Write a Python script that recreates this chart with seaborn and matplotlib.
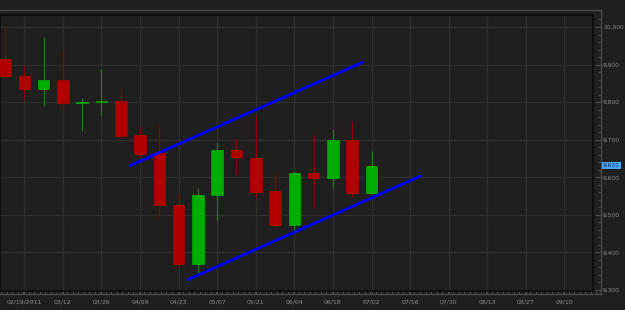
import matplotlib
matplotlib.use("Agg")
import matplotlib.pyplot as plt
import matplotlib.transforms as mtransforms
import numpy as np
import pandas as pd
import seaborn as sns

# ---- data (weekly candles) ----
opens  = [9914, 9870, 9834, 9860, 9798, 9800, 9803, 9712, 9664, 9526,
          9370, 9553, 9673, 9651, 9563, 9473, 9611, 9597, 9699, 9557]
closes = [9870, 9834, 9860, 9798, 9800, 9803, 9711, 9663, 9526, 9370,
          9553, 9673, 9653, 9562, 9473, 9611, 9597, 9699, 9557, 9631]
highs  = [10003, 9897, 9973, 9941, 9810, 9888, 9837, 9735, 9737, 9557,
          9572, 9690, 9701, 9766, 9609, 9617, 9715, 9729, 9751, 9669]
lows   = [9865, 9808, 9790, 9776, 9724, 9766, 9704, 9655, 9495, 9355,
          9343, 9486, 9605, 9546, 9467, 9455, 9517, 9571, 9548, 9555]
week_idx = list(range(len(opens)))

date_labels = ["02/19/2011", "03/12", "03/26", "04/09", "04/23", "05/07",
               "05/21", "06/04", "06/18", "07/02", "07/16", "07/30",
               "08/13", "08/27", "09/10"]
date_label_idx = [1, 3, 5, 7, 9, 11, 13, 15, 17, 19, 21, 23, 25, 27, 29]
y_ticks = [9300, 9400, 9500, 9600, 9700, 9800, 9900, 10000]
last_price = 9631

upper_x = [6.48, 18.54]
upper_y = [9631, 9906]
lower_x = [9.50, 21.53]
lower_y = [9328, 9603]

# ---- style ----
BG = "#1f1f1f"
GRID = "#2f2f2f"
TXT = "#8c8c8c"
sns.set_style("dark", rc={"axes.facecolor": BG, "figure.facecolor": BG})
plt.rcParams["font.family"] = ["DejaVu Sans"]

W, H = 625, 310
fig = plt.figure(figsize=(W / 100, H / 100), dpi=100)

# pixel mapping helpers (layout only)
PX_PER_WEEK = 19.29
X0_PX = 5.0
PX_PER_UNIT = 263 / 700.0
Y9300_PX = 290.0

def xlim_for(left_px, right_px):
    return ((left_px - X0_PX) / PX_PER_WEEK, (right_px - X0_PX) / PX_PER_WEEK)

def ylim_for(top_px, bottom_px):
    return (9300 + (Y9300_PX - bottom_px) / PX_PER_UNIT,
            9300 + (Y9300_PX - top_px) / PX_PER_UNIT)

# outer axis (gray axis lines with ticks and labels)
o_l, o_r, o_t, o_b = 0, 601, 10, 294
ax2 = fig.add_axes([o_l / W, 1 - o_b / H, (o_r - o_l) / W, (o_b - o_t) / H])
ax2.set_facecolor(BG)
ax2.set_xlim(*xlim_for(o_l, o_r))
ax2.set_ylim(*ylim_for(o_t, o_b))
ax2.spines["left"].set_visible(False)
for s in ["top", "right", "bottom"]:
    ax2.spines[s].set_visible(True)
    ax2.spines[s].set_color("#4a4a4a")
    ax2.spines[s].set_linewidth(1.0)
ax2.yaxis.tick_right()
ax2.set_yticks(y_ticks)
ax2.set_yticklabels([f"{v:,}" for v in y_ticks], color=TXT, fontsize=4.3)
ax2.set_yticks(np.arange(9300, 10040, 20), minor=True)
ax2.set_xticks(date_label_idx)
ax2.set_xticklabels(date_labels, color=TXT, fontsize=4.4)
ax2.set_xticks(np.arange(-0.2, 30.9, 2 / 7), minor=True)
ax2.tick_params(axis="y", which="major", direction="in", length=4, width=0.6,
                color="#5a5a5a", pad=1.5, right=True, left=False)
ax2.tick_params(axis="y", which="minor", direction="in", length=2, width=0.5,
                color="#5a5a5a", right=True, left=False)
ax2.tick_params(axis="x", which="major", direction="in", length=5, width=0.6,
                color="#5a5a5a", pad=4, bottom=True)
ax2.tick_params(axis="x", which="minor", direction="in", length=2, width=0.5,
                color="#5a5a5a", bottom=True)
ax2.grid(False)

# last price box
trans = mtransforms.blended_transform_factory(ax2.transAxes, ax2.transData)
ax2.text(1.003, last_price, f"{last_price:,}", transform=trans, fontsize=4.3,
         color="#0a2a6a", va="center", ha="left",
         bbox=dict(boxstyle="square,pad=0.2", fc="#4aa8f0", ec="none"))

# inner plot area
i_l, i_r, i_t, i_b = 0, 593, 15, 291
ax = fig.add_axes([i_l / W, 1 - i_b / H, (i_r - i_l) / W, (i_b - i_t) / H])
ax.set_facecolor(BG)
ax.set_xlim(*xlim_for(i_l, i_r))
ax.set_ylim(*ylim_for(i_t, i_b))
for s in ax.spines.values():
    s.set_visible(True)
    s.set_color("#0c0c0c")
    s.set_linewidth(1.2)
ax.set_xticks(date_label_idx)
ax.set_yticks(y_ticks)
ax.tick_params(left=False, bottom=False, labelleft=False, labelbottom=False)
ax.grid(True, color=GRID, linewidth=0.9)
ax.set_axisbelow(True)

df = pd.DataFrame({"x": week_idx, "open": opens, "close": closes,
                   "high": highs, "low": lows})
up = df["close"] >= df["open"]
body_col = np.where(up, "#00ad00", "#b00000")
wick_col = np.where(up, "#1d7a1d", "#8a0000")
ax.vlines(df["x"], df["low"], df["high"], colors=wick_col, linewidth=0.9, zorder=2)
heights = (df["close"] - df["open"]).abs().clip(lower=3.0)
bottoms = df[["open", "close"]].min(axis=1)
ax.bar(df["x"], heights, bottom=bottoms, width=0.6, color=body_col,
       edgecolor=body_col, linewidth=0.5, zorder=3)

tl = pd.DataFrame({"x": upper_x + lower_x, "y": upper_y + lower_y,
                   "line": ["upper", "upper", "lower", "lower"]})
sns.lineplot(data=tl, x="x", y="y", units="line", estimator=None,
             color="#0000ff", linewidth=2.0, ax=ax, zorder=4, legend=False)
ax.set_xlabel("")
ax.set_ylabel("")

fig.savefig("out.png", dpi=100, facecolor=BG)
